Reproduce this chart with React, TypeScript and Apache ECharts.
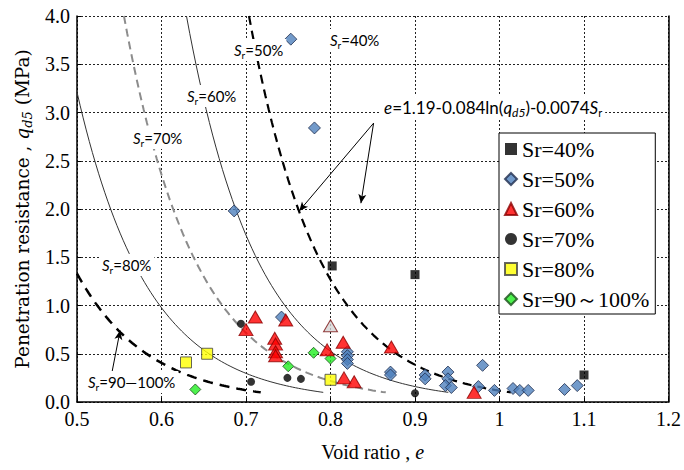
import React, { useEffect, useRef } from "react";
import * as echarts from "echarts";

// ---- data ----
const xTicks = [0.5, 0.6, 0.7, 0.8, 0.9, 1.0, 1.1, 1.2];
const yTicks = [0, 0.5, 1.0, 1.5, 2.0, 2.5, 3.0, 3.5, 4.0];
const legendNames = ["Sr=40%", "Sr=50%", "Sr=60%", "Sr=70%", "Sr=80%", "Sr=90～100%"];

const sr40 = [[0.802, 1.41], [0.9, 1.32], [1.1, 0.28]];
const sr50 = [
  [0.753, 3.76], [0.781, 2.84], [0.686, 1.98], [0.742, 0.88],
  [0.82, 0.52], [0.82, 0.48], [0.82, 0.44], [0.82, 0.4],
  [0.871, 0.31], [0.871, 0.28], [0.912, 0.28], [0.912, 0.24],
  [0.939, 0.31], [0.939, 0.24], [0.936, 0.17], [0.943, 0.15],
  [0.98, 0.38], [0.975, 0.16], [0.994, 0.12], [1.016, 0.14],
  [1.024, 0.12], [1.034, 0.12], [1.077, 0.13], [1.092, 0.17],
];
const sr60 = [
  [0.7, 0.75], [0.711, 0.88], [0.747, 0.85], [0.734, 0.66],
  [0.735, 0.6], [0.735, 0.52], [0.735, 0.48], [0.796, 0.54],
  [0.815, 0.62], [0.816, 0.25], [0.828, 0.21], [0.872, 0.57], [0.97, 0.1],
];
const sr60Gray = [[0.8, 0.79]];
const sr70 = [[0.694, 0.81], [0.706, 0.21], [0.749, 0.25], [0.765, 0.24], [0.9, 0.09]];
const sr80 = [[0.629, 0.41], [0.654, 0.5], [0.8, 0.23]];
const sr90 = [[0.64, 0.13], [0.75, 0.37], [0.78, 0.51], [0.8, 0.45]];

// fitted relation printed on the chart: e = 1.19 - 0.084 ln(qd5) - 0.0074 Sr
const fitA = 1.19;
const fitB = 0.084;
const fitC = 0.0074;
const curveSr = [50, 60, 70, 80, 90];
const curveQMin = 0.1;

function fitCurve(sr: number) {
  const a = fitA - fitC * sr;
  const qTop = Math.min(4, Math.exp((a - 0.5) / fitB));
  const pts: number[][] = [];
  const n = 80;
  for (let i = 0; i <= n; i++) {
    const q = qTop * Math.pow(curveQMin / qTop, i / n);
    pts.push([a - fitB * Math.log(q), q]);
  }
  return pts;
}

const SERIF = "Liberation Serif";
const WIDE_SERIF = "DejaVu Serif";
const SANS = "Lato";

export default function App() {
  const ref = useRef<HTMLDivElement>(null);
  useEffect(() => {
    document.body.style.margin = "0";
    if (!ref.current) return;
    const chart = echarts.init(ref.current, null, { renderer: "svg" });

    const curveStyles: any = {
      50: { color: "#000", width: 2.2, type: [9, 6] },
      60: { color: "#333", width: 1, type: "solid" },
      70: { color: "#8c8c8c", width: 2, type: [8, 5] },
      80: { color: "#333", width: 1, type: "solid" },
      90: { color: "#000", width: 2.5, type: [10, 7] },
    };

    const curveSeries = curveSr.map((sr) => ({
      type: "line",
      name: "fit" + sr,
      data: fitCurve(sr),
      showSymbol: false,
      symbol: "none",
      silent: true,
      lineStyle: curveStyles[sr],
      z: 1,
    }));

    const subRich = (fs: number) => ({
      i: { fontStyle: "italic", fontSize: fs, lineHeight: fs + 5, fontFamily: SANS },
      sub: { fontSize: Math.round(fs * 0.65), lineHeight: Math.round(fs * 0.65), verticalAlign: "bottom", fontFamily: SANS },
      isub: { fontStyle: "italic", fontSize: Math.round(fs * 0.7), lineHeight: Math.round(fs * 0.7), verticalAlign: "bottom", fontFamily: SANS },
    });

    const label = (x: number, y: number, text: string, fs = 15) => ({
      type: "text",
      x,
      y,
      z: 100,
      silent: true,
      style: {
        text,
        fontFamily: SANS,
        fontSize: fs,
        lineHeight: fs + 5,
        fill: "#000",
        verticalAlign: "middle",
        align: "left",
        backgroundColor: "#fff",
        padding: [1, 3],
        rich: subRich(fs),
      },
    });

    const option: any = {
      animation: false,
      textStyle: { fontFamily: SERIF },
      grid: { left: 77, top: 16, right: 13, bottom: 68, show: false },
      xAxis: {
        type: "value",
        min: xTicks[0],
        max: xTicks[xTicks.length - 1],
        interval: 0.1,
        name: "Void ratio , {i|e}",
        nameLocation: "middle",
        nameGap: 40,
        nameTextStyle: {
          fontFamily: SERIF,
          fontSize: 20,
          color: "#000",
          rich: { i: { fontStyle: "italic", fontFamily: SERIF, fontSize: 20 } },
        },
        axisLine: { show: true, lineStyle: { color: "#000", width: 1.5 } },
        axisTick: { show: true, inside: true, length: 4, lineStyle: { color: "#000" } },
        axisLabel: {
          fontFamily: SERIF,
          fontSize: 20,
          color: "#000",
          margin: 7,
          formatter: (v: number) => String(Number(v.toFixed(1))),
        },
        splitLine: { show: true, lineStyle: { color: "#222", type: [2, 2], width: 1 } },
      },
      yAxis: [
        {
          type: "value",
          min: yTicks[0],
          max: yTicks[yTicks.length - 1],
          interval: 0.5,
          name: "Penetration resistance , {q|q}{sub|d5} (MPa)",
          nameLocation: "middle",
          nameGap: 37,
          nameTextStyle: {
            fontFamily: WIDE_SERIF,
            fontSize: 18.5,
            lineHeight: 24,
            color: "#000",
            rich: {
              q: { fontStyle: "italic", fontFamily: WIDE_SERIF, fontSize: 18.5, lineHeight: 24 },
              sub: { fontStyle: "italic", fontFamily: WIDE_SERIF, fontSize: 13, lineHeight: 13, verticalAlign: "bottom" },
            },
          },
          axisLine: { show: true, lineStyle: { color: "#000", width: 1.5 } },
          axisTick: { show: true, inside: true, length: 4, lineStyle: { color: "#000" } },
          axisLabel: {
            fontFamily: SERIF,
            fontSize: 20,
            color: "#000",
            margin: 7,
            formatter: (v: number) => v.toFixed(1),
          },
          splitLine: { show: true, lineStyle: { color: "#222", type: [2, 2], width: 1 } },
        },
        {
          type: "value",
          position: "right",
          min: yTicks[0],
          max: yTicks[yTicks.length - 1],
          interval: 0.5,
          axisLine: { show: true, lineStyle: { color: "#000", width: 1.5 } },
          axisTick: { show: false },
          axisLabel: { show: false },
          splitLine: { show: false },
        },
      ],
      legend: {
        orient: "vertical",
        left: 499,
        top: 133,
        padding: [5, 6, 4, 5],
        itemGap: 8,
        itemWidth: 12,
        itemHeight: 12,
        backgroundColor: "#fff",
        borderColor: "#000",
        borderWidth: 1,
        borderRadius: 0,
        formatter: "{t|{name}}",
        textStyle: {
          fontFamily: SERIF,
          fontSize: 22,
          color: "#000",
          rich: { t: { fontFamily: SERIF, fontSize: 22, color: "#000", lineHeight: 22 } },
        },
        data: legendNames.map((n, i) =>
          i === 0 ? { name: n, itemStyle: { color: "#000" } } : { name: n }
        ),
        z: 50,
      },
      graphic: [
        label(327, 40, "{i|S}{sub|r}=40%"),
        label(231, 50, "{i|S}{sub|r}=50%"),
        label(184, 96, "{i|S}{sub|r}=60%"),
        label(130, 138, "{i|S}{sub|r}=70%"),
        label(99, 265, "{i|S}{sub|r}=80%"),
        label(85, 382, "{i|S}{sub|r}=90—100%"),
        label(381, 107, "{i|e}=1.19-0.084ln({i|q}{isub|d5})-0.0074{i|S}{sub|r}", 17),
      ],
      series: [
        ...curveSeries,
        {
          type: "line",
          name: "arrows",
          data: [],
          silent: true,
          markLine: {
            silent: true,
            symbol: ["none", "arrow"],
            symbolSize: [6, 9],
            label: { show: false },
            lineStyle: { color: "#000", width: 1, type: "solid" },
            data: [
              [{ coord: [0.851, 2.89] }, { coord: [0.763, 1.98] }],
              [{ coord: [0.851, 2.89] }, { coord: [0.836, 2.06] }],
              [{ coord: [0.541, 0.29] }, { coord: [0.551, 0.74] }],
            ],
          },
          z: 3,
        },
        {
          type: "scatter",
          name: legendNames[0],
          data: sr40,
          symbol: "rect",
          symbolSize: 9,
          itemStyle: { color: "#000" },
          z: 5,
        },
        {
          type: "scatter",
          name: legendNames[1],
          data: sr50,
          symbol: "diamond",
          symbolSize: 12,
          itemStyle: { color: "#4f81bd", borderColor: "#1f2d4d", borderWidth: 1 },
          z: 5,
        },
        {
          type: "scatter",
          name: legendNames[2],
          data: [
            ...sr60,
            ...sr60Gray.map((p) => ({
              value: p,
              itemStyle: { color: "#d4d4d4", borderColor: "#7a1010", borderWidth: 1 },
            })),
          ],
          symbol: "triangle",
          symbolSize: [14, 12],
          itemStyle: { color: "#ff0000", borderColor: "#8b0000", borderWidth: 1 },
          z: 6,
        },
        {
          type: "scatter",
          name: legendNames[3],
          data: sr70,
          symbol: "circle",
          symbolSize: 8,
          itemStyle: { color: "#000" },
          z: 5,
        },
        {
          type: "scatter",
          name: legendNames[4],
          data: sr80,
          symbol: "rect",
          symbolSize: 11,
          itemStyle: { color: "#ffff00", borderColor: "#404040", borderWidth: 1 },
          z: 5,
        },
        {
          type: "scatter",
          name: legendNames[5],
          data: sr90,
          symbol: "diamond",
          symbolSize: 11,
          itemStyle: { color: "#22ee22", borderColor: "#1a4d1a", borderWidth: 1 },
          z: 5,
        },
      ],
    };
    chart.setOption(option);
    return () => chart.dispose();
  }, []);
  return <div ref={ref} style={{ width: 684, height: 470 }} />;
}
